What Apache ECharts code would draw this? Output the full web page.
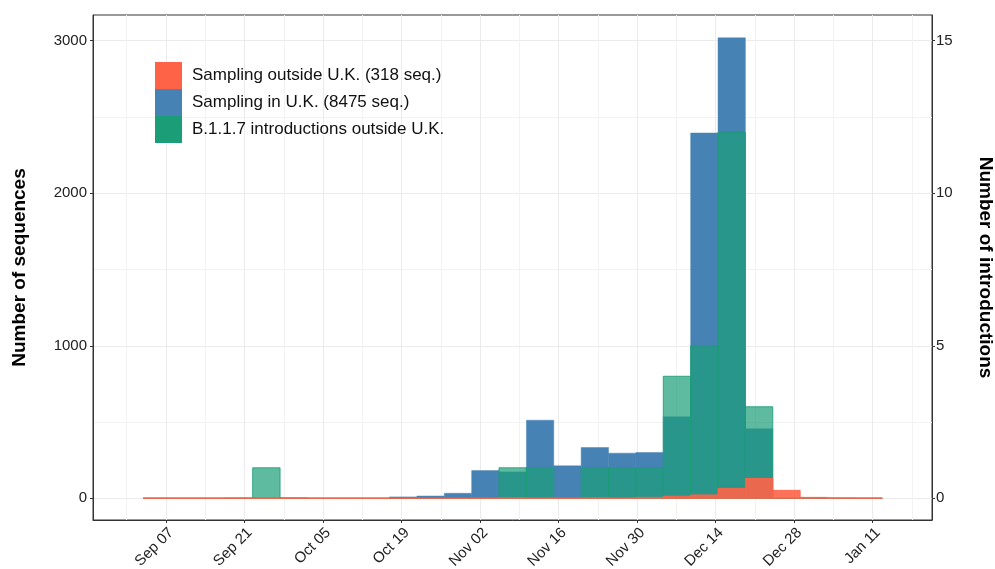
<!DOCTYPE html>
<html>
<head>
<meta charset="utf-8">
<script src="https://cdn.jsdelivr.net/npm/echarts@6/dist/echarts.min.js"></script>
<style>
html,body{margin:0;padding:0;background:#fff;}
#main{width:995px;height:569px;}
</style>
</head>
<body>
<div id="main"></div>
<script>
// x axis: days counted from 2020-09-07
var binStart = -4.06;   // left edge of the first bin
var binDays = 4.88;     // bin width in days

// 27 bins
var outsideUK = [1, 0, 0, 1, 0, 1, 0, 0, 0, 1, 1, 1, 2, 3, 2, 2, 3, 2, 6, 14, 22, 65, 130, 52, 6, 2, 1];
var inUK = [0, 0, 0, 2, 0, 3, 0, 0, 0, 9, 15, 33, 182, 173, 512, 213, 333, 296, 300, 534, 2395, 3019, 456, 0, 0, 0, 0];
var introductions = [0, 0, 0, 0, 1, 0, 0, 0, 0, 0, 0, 0, 0, 1, 1, 0, 1, 1, 1, 4, 5, 12, 3, 0, 0, 0, 0];

var dateTicks = [0, 14, 28, 42, 56, 70, 84, 98, 112, 126];
var dateLabels = ['Sep 07', 'Sep 21', 'Oct 05', 'Oct 19', 'Nov 02', 'Nov 16', 'Nov 30', 'Dec 14', 'Dec 28', 'Jan 11'];
var dateMinor = [-7, 7, 21, 35, 49, 63, 77, 91, 105, 119, 133];
var seqTicks = [0, 1000, 2000, 3000];
var seqMinor = [500, 1500, 2500];
var introTicks = [0, 5, 10, 15];

var legendNames = ['Sampling outside U.K. (318 seq.)', 'Sampling in U.K. (8475 seq.)', 'B.1.1.7 introductions outside U.K.'];

var xMin = -13.01, xMax = 136.57;
var seqMin = -142.3, seqMax = 3168.6;
var ratio = 200; // sequences per introduction on the two y axes

var font = 'Liberation Sans, Arial, Helvetica, sans-serif';

function toBins(arr) {
	return arr.map(function (v, i) {
		return [binStart + i * binDays, binStart + (i + 1) * binDays, v];
	});
}

function histRender(fill, stroke) {
	return function (params, api) {
		var a = api.coord([api.value(0), 0]);
		var b = api.coord([api.value(1), api.value(2)]);
		return {
			type: 'rect',
			shape: { x: a[0], y: b[1], width: b[0] - a[0], height: a[1] - b[1] },
			style: { fill: fill, stroke: stroke, lineWidth: 1 }
		};
	};
}

function plain(v) { return String(Math.round(v)); }

var myChart = echarts.init(document.getElementById('main'));

var option = {
	animation: false,
	backgroundColor: '#fff',
	textStyle: { fontFamily: font },
	grid: {
		left: 93, right: 63, top: 15, bottom: 49,
		outerBoundsMode: 'none',
		show: true, borderColor: '#333', borderWidth: 1
	},
	legend: {
		data: legendNames,
		orient: 'vertical',
		left: 150, top: 57,
		itemWidth: 27, itemHeight: 27, itemGap: 0,
		icon: 'rect',
		textStyle: { fontSize: 17, color: '#111', fontFamily: font, padding: [0, 0, 0, 5] }
	},
	xAxis: [{
		type: 'value', min: xMin, max: xMax,
		axisLine: { show: true, onZero: false, lineStyle: { color: '#333' } },
		axisTick: { show: true, length: 3, customValues: dateTicks, lineStyle: { color: '#333' } },
		axisLabel: {
			customValues: dateTicks, rotate: 45, fontSize: 15, margin: 5, color: '#222',
			align: 'right', verticalAlign: 'top',
			formatter: function (v) { return dateLabels[dateTicks.indexOf(Math.round(v))] || ''; }
		},
		splitLine: { show: true, lineStyle: { color: '#ebebeb', width: 1 } }
	}, {
		type: 'value', min: xMin, max: xMax,
		axisLine: { show: false },
		axisTick: { show: false, customValues: dateMinor },
		axisLabel: { show: false, customValues: dateMinor },
		splitLine: { show: true, lineStyle: { color: '#f2f2f2', width: 1 } }
	}],
	yAxis: [{
		type: 'value', min: seqMin, max: seqMax, position: 'left',
		name: 'Number of sequences', nameLocation: 'middle', nameGap: 64,
		nameTextStyle: { fontSize: 19, fontWeight: 'bold', color: '#000', fontFamily: font },
		axisLine: { show: true, onZero: false, lineStyle: { color: '#333' } },
		axisTick: { show: true, length: 3, customValues: seqTicks, lineStyle: { color: '#333' } },
		axisLabel: { customValues: seqTicks, fontSize: 15, margin: 6, color: '#222', formatter: plain },
		splitLine: { show: true, lineStyle: { color: '#ebebeb', width: 1 } }
	}, {
		type: 'value', min: seqMin / ratio, max: seqMax / ratio, position: 'right',
		name: 'Number of introductions', nameLocation: 'middle', nameGap: 44, nameRotate: -90,
		nameTextStyle: { fontSize: 19, fontWeight: 'bold', color: '#000', fontFamily: font },
		axisLine: { show: true, onZero: false, lineStyle: { color: '#333' } },
		axisTick: { show: true, length: 3, customValues: introTicks, lineStyle: { color: '#333' } },
		axisLabel: { customValues: introTicks, fontSize: 15, margin: 4, color: '#222', formatter: plain },
		splitLine: { show: false }
	}, {
		type: 'value', min: seqMin, max: seqMax, position: 'left',
		axisLine: { show: false },
		axisTick: { show: false, customValues: seqMinor },
		axisLabel: { show: false, customValues: seqMinor },
		splitLine: { show: true, lineStyle: { color: '#f2f2f2', width: 1 } }
	}],
	series: [{
		name: legendNames[1],
		type: 'custom',
		xAxisIndex: 0, yAxisIndex: 0,
		itemStyle: { color: '#4682b4' },
		renderItem: histRender('#4682b4', 'rgba(70,130,180,0.45)'),
		encode: { x: [0, 1], y: 2 },
		data: toBins(inUK)
	}, {
		name: legendNames[2],
		type: 'custom',
		xAxisIndex: 0, yAxisIndex: 1,
		itemStyle: { color: '#1b9e77' },
		renderItem: histRender('rgba(27,158,119,0.7)', 'rgba(27,158,119,0.85)'),
		encode: { x: [0, 1], y: 2 },
		data: toBins(introductions)
	}, {
		name: legendNames[0],
		type: 'custom',
		xAxisIndex: 0, yAxisIndex: 0,
		itemStyle: { color: '#ff6347' },
		renderItem: histRender('rgba(255,99,71,0.9)', 'rgba(255,99,71,0.9)'),
		encode: { x: [0, 1], y: 2 },
		data: toBins(outsideUK)
	}]
};

myChart.setOption(option);
</script>
</body>
</html>
